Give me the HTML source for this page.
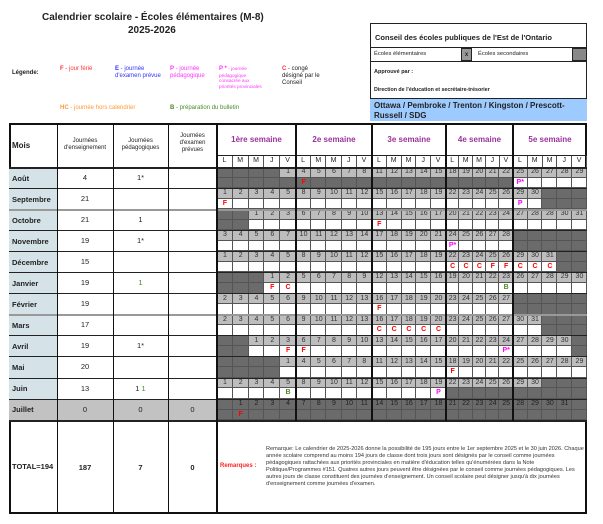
<!DOCTYPE html>
<html><head><meta charset="utf-8">
<style>
*{margin:0;padding:0;box-sizing:border-box}
body{width:603px;height:524px;background:#fff;position:relative;overflow:hidden;font-family:"Liberation Sans",sans-serif;color:#222}
.a{position:absolute;white-space:nowrap}
.b{font-weight:bold}
#g{position:absolute;left:217px;top:167px;width:370px;height:253.2px;display:grid;
grid-template-columns:repeat(5,15.8px) repeat(5,15.2px) repeat(5,14.8px) repeat(5,13.4px) repeat(5,14.8px);
grid-template-rows:repeat(24,10.55px)}
#g i,#g s,#g u{font-style:normal;text-decoration:none;font-size:7px;line-height:10.5px;text-align:center;box-shadow:inset -1px -1px 0 #555;color:#333}
#g i{background:#bdbdbd}
#g s{background:#6b6b6b;color:#222}
#g u{background:#fff}
#g .r{color:#f00;font-weight:bold}
#g .m{color:#f0f;font-weight:bold}
#g .g{color:#4a8a2a;font-weight:bold}
.hl{position:absolute;left:9px;width:578px;height:1px;background:#222}
.vl{position:absolute;top:123px;height:298px;width:2px;background:#111}
.cell{position:absolute;display:flex;align-items:center;justify-content:center;text-align:center;font-size:7.5px}
.wk{position:absolute;top:123px;height:32px;display:flex;align-items:center;justify-content:center;color:#993399;font-weight:bold;font-size:8px}
.dl{position:absolute;top:155px;height:12px;display:flex}
.dl span{flex:1;font-size:7px;text-align:center;line-height:12px;border-right:1px solid #555}
</style></head><body>
<div class="a b" style="left:42px;top:12px;font-size:10px">Calendrier scolaire - Écoles élémentaires (M-8)</div>
<div class="a b" style="left:128px;top:25px;font-size:10px">2025-2026</div>
<div class="a b" style="left:12px;top:70px;font-size:6px">Légende:</div>
<div class="a" style="left:60px;top:66px;font-size:6px;color:#f33"><b>F</b> - jour férié</div>
<div class="a" style="left:115px;top:66px;font-size:6px;color:#33f;line-height:7px"><b>E</b> - journée<br>d'examen prévue</div>
<div class="a" style="left:170px;top:66px;font-size:6px;color:#f3f;line-height:7px"><b>P</b> - journée<br>pédagogique</div>
<div class="a" style="left:219px;top:66px;font-size:4.7px;color:#f3f;line-height:5.6px"><b style="font-size:6px">P *</b> - journée<br>pédagogique<br>consacrée aux<br>priorités provinciales</div>
<div class="a" style="left:282px;top:66px;font-size:6px;line-height:7px"><b style="color:#f33">C</b> - congé<br>désigné par le<br>Conseil</div>
<div class="a" style="left:60px;top:105px;font-size:6px;color:#f93"><b>HC</b> - journée hors calendrier</div>
<div class="a" style="left:170px;top:105px;font-size:6px;color:#4a8a2a"><b>B</b> - préparation du bulletin</div>

<div class="a" style="left:370px;top:23px;width:217px;height:98px;border:1px solid #222"></div>
<div class="a b" style="left:375px;top:33px;font-size:7.5px">Conseil des écoles publiques de l'Est de l'Ontario</div>
<div class="a" style="left:370px;top:47px;width:217px;height:15px;border-top:1px solid #222;border-bottom:1px solid #222"></div>
<div class="a" style="left:374px;top:51px;font-size:5.8px">Écoles élémentaires</div>
<div class="a b" style="left:461px;top:48px;width:11px;height:13px;background:#999;border:1px solid #222;font-size:6px;text-align:center;line-height:12px">x</div>
<div class="a" style="left:478px;top:51px;font-size:5.8px">Écoles secondaires</div>
<div class="a" style="left:572px;top:48px;width:15px;height:13px;background:#888;border:1px solid #222"></div>
<div class="a b" style="left:374px;top:69px;font-size:5.5px">Approuvé par :</div>
<div class="a b" style="left:374px;top:87px;font-size:5.3px">Direction de l'éducation et secrétaire-trésorier</div>
<div class="a b" style="left:370px;top:98px;width:217px;height:23px;background:#9ecbff;font-size:8px;line-height:9.5px;padding:2px 4px;border-top:1px solid #222;white-space:normal">Ottawa / Pembroke / Trenton / Kingston / Prescott-Russell / SDG</div>

<div class="a" style="left:9px;top:123px;width:578px;height:391px;border:2px solid #111"></div>
<div class="a" style="left:9px;top:167px;width:48px;height:233px;background:#d5e3e8"></div>
<div class="a" style="left:9px;top:399px;width:208px;height:21px;background:#c2c2c2"></div>
<div class="cell b" style="left:12px;top:123px;height:44px;font-size:8px">Mois</div>
<div class="cell" style="left:57px;top:123px;width:56px;height:44px;font-size:6px;line-height:7px">Journées<br>d'enseignement</div>
<div class="cell" style="left:113px;top:123px;width:55px;height:44px;font-size:6px;line-height:7px">Journées<br>pédagogiques</div>
<div class="cell" style="left:168px;top:123px;width:49px;height:40px;font-size:6px;line-height:7px">Journées<br>d'examen<br>prévues</div>
<div class="wk" style="left:217px;width:79px">1ère semaine</div>
<div class="wk" style="left:296px;width:76px">2e semaine</div>
<div class="wk" style="left:372px;width:74px">3e semaine</div>
<div class="wk" style="left:446px;width:67px">4e semaine</div>
<div class="wk" style="left:513px;width:74px">5e semaine</div>
<div class="dl" style="left:217px;width:79px"><span>L</span><span>M</span><span>M</span><span>J</span><span>V</span></div>
<div class="dl" style="left:296px;width:76px"><span>L</span><span>M</span><span>M</span><span>J</span><span>V</span></div>
<div class="dl" style="left:372px;width:74px"><span>L</span><span>M</span><span>M</span><span>J</span><span>V</span></div>
<div class="dl" style="left:446px;width:67px"><span>L</span><span>M</span><span>M</span><span>J</span><span>V</span></div>
<div class="dl" style="left:513px;width:74px"><span>L</span><span>M</span><span>M</span><span>J</span><span>V</span></div>
<div class="a" style="left:217px;top:155px;width:370px;height:1px;background:#222"></div>

<div id="g">
<s></s><s></s><s></s><s></s><i>1</i><i>4</i><i>5</i><i>6</i><i>7</i><i>8</i><i>11</i><i>12</i><i>13</i><i>14</i><i>15</i><i>18</i><i>19</i><i>20</i><i>21</i><i>22</i><i>25</i><i>26</i><i>27</i><i>28</i><i>29</i>
<s></s><s></s><s></s><s></s><s></s><s class="r">F</s><s></s><s></s><s></s><s></s><s></s><s></s><s></s><s></s><s></s><s></s><s></s><s></s><s></s><s></s><u class="m">P*</u><u></u><u></u><u></u><u></u>
<i>1</i><i>2</i><i>3</i><i>4</i><i>5</i><i>8</i><i>9</i><i>10</i><i>11</i><i>12</i><i>15</i><i>16</i><i>17</i><i>18</i><i>19</i><i>22</i><i>23</i><i>24</i><i>25</i><i>26</i><i>29</i><i>30</i><s></s><s></s><s></s>
<u class="r">F</u><u></u><u></u><u></u><u></u><u></u><u></u><u></u><u></u><u></u><u></u><u></u><u></u><u></u><u></u><u></u><u></u><u></u><u></u><u></u><u class="m">P</u><u></u><s></s><s></s><s></s>
<s></s><s></s><i>1</i><i>2</i><i>3</i><i>6</i><i>7</i><i>8</i><i>9</i><i>10</i><i>13</i><i>14</i><i>15</i><i>16</i><i>17</i><i>20</i><i>21</i><i>22</i><i>23</i><i>24</i><i>27</i><i>28</i><i>28</i><i>30</i><i>31</i>
<s></s><s></s><u></u><u></u><u></u><u></u><u></u><u></u><u></u><u></u><u class="r">F</u><u></u><u></u><u></u><u></u><u></u><u></u><u></u><u></u><u></u><u></u><u></u><u></u><u></u><u></u>
<i>3</i><i>4</i><i>5</i><i>6</i><i>7</i><i>10</i><i>11</i><i>12</i><i>13</i><i>14</i><i>17</i><i>18</i><i>19</i><i>20</i><i>21</i><i>24</i><i>25</i><i>26</i><i>27</i><i>28</i><s></s><s></s><s></s><s></s><s></s>
<u></u><u></u><u></u><u></u><u></u><u></u><u></u><u></u><u></u><u></u><u></u><u></u><u></u><u></u><u></u><u class="m">P*</u><u></u><u></u><u></u><u></u><s></s><s></s><s></s><s></s><s></s>
<i>1</i><i>2</i><i>3</i><i>4</i><i>5</i><i>8</i><i>9</i><i>10</i><i>11</i><i>12</i><i>15</i><i>16</i><i>17</i><i>18</i><i>19</i><i>22</i><i>23</i><i>24</i><i>25</i><i>26</i><i>29</i><i>30</i><i>31</i><s></s><s></s>
<u></u><u></u><u></u><u></u><u></u><u></u><u></u><u></u><u></u><u></u><u></u><u></u><u></u><u></u><u></u><u class="r">C</u><u class="r">C</u><u class="r">C</u><u class="r">F</u><u class="r">F</u><u class="r">C</u><u class="r">C</u><u class="r">C</u><s></s><s></s>
<s></s><s></s><s></s><i>1</i><i>2</i><i>5</i><i>6</i><i>7</i><i>8</i><i>9</i><i>12</i><i>13</i><i>14</i><i>15</i><i>16</i><i>19</i><i>20</i><i>21</i><i>22</i><i>23</i><i>26</i><i>27</i><i>28</i><i>29</i><i>30</i>
<s></s><s></s><s></s><u class="r">F</u><u class="r">C</u><u></u><u></u><u></u><u></u><u></u><u></u><u></u><u></u><u></u><u></u><u></u><u></u><u></u><u></u><u class="g">B</u><u></u><u></u><u></u><u></u><u></u>
<i>2</i><i>3</i><i>4</i><i>5</i><i>6</i><i>9</i><i>10</i><i>11</i><i>12</i><i>13</i><i>16</i><i>17</i><i>18</i><i>19</i><i>20</i><i>23</i><i>24</i><i>25</i><i>26</i><i>27</i><s></s><s></s><s></s><s></s><s></s>
<u></u><u></u><u></u><u></u><u></u><u></u><u></u><u></u><u></u><u></u><u class="r">F</u><u></u><u></u><u></u><u></u><u></u><u></u><u></u><u></u><u></u><s></s><s></s><s></s><s></s><s></s>
<i>2</i><i>3</i><i>4</i><i>5</i><i>6</i><i>9</i><i>10</i><i>11</i><i>12</i><i>13</i><i>16</i><i>17</i><i>18</i><i>19</i><i>20</i><i>23</i><i>24</i><i>25</i><i>26</i><i>27</i><i>30</i><i>31</i><s></s><s></s><s></s>
<u></u><u></u><u></u><u></u><u></u><u></u><u></u><u></u><u></u><u></u><u class="r">C</u><u class="r">C</u><u class="r">C</u><u class="r">C</u><u class="r">C</u><u></u><u></u><u></u><u></u><u></u><u></u><u></u><s></s><s></s><s></s>
<s></s><s></s><i>1</i><i>2</i><i>3</i><i>6</i><i>7</i><i>8</i><i>9</i><i>10</i><i>13</i><i>14</i><i>15</i><i>16</i><i>17</i><i>20</i><i>21</i><i>22</i><i>23</i><i>24</i><i>27</i><i>28</i><i>29</i><i>30</i><s></s>
<s></s><s></s><u></u><u></u><u class="r">F</u><u class="r">F</u><u></u><u></u><u></u><u></u><u></u><u></u><u></u><u></u><u></u><u></u><u></u><u></u><u></u><u class="m">P*</u><u></u><u></u><u></u><u></u><s></s>
<s></s><s></s><s></s><s></s><i>1</i><i>4</i><i>5</i><i>6</i><i>7</i><i>8</i><i>11</i><i>12</i><i>13</i><i>14</i><i>15</i><i>18</i><i>19</i><i>20</i><i>21</i><i>22</i><i>25</i><i>26</i><i>27</i><i>28</i><i>29</i>
<s></s><s></s><s></s><s></s><u></u><u></u><u></u><u></u><u></u><u></u><u></u><u></u><u></u><u></u><u></u><u class="r">F</u><u></u><u></u><u></u><u></u><u></u><u></u><u></u><u></u><u></u>
<i>1</i><i>2</i><i>3</i><i>4</i><i>5</i><i>8</i><i>9</i><i>10</i><i>11</i><i>12</i><i>15</i><i>16</i><i>17</i><i>18</i><i>19</i><i>22</i><i>23</i><i>24</i><i>25</i><i>26</i><i>29</i><i>30</i><s></s><s></s><s></s>
<u></u><u></u><u></u><u></u><u class="g">B</u><u></u><u></u><u></u><u></u><u></u><u></u><u></u><u></u><u></u><u class="m">P</u><s></s><s></s><s></s><s></s><s></s><s></s><s></s><s></s><s></s><s></s>
<s></s><s>1</s><s>2</s><s>3</s><s>4</s><s>7</s><s>8</s><s>9</s><s>10</s><s>11</s><s>14</s><s>15</s><s>16</s><s>17</s><s>18</s><s>21</s><s>22</s><s>23</s><s>24</s><s>25</s><s>28</s><s>29</s><s>30</s><s>31</s><s></s>
<s></s><s class="r">F</s><s></s><s></s><s></s><s></s><s></s><s></s><s></s><s></s><s></s><s></s><s></s><s></s><s></s><s></s><s></s><s></s><s></s><s></s><s></s><s></s><s></s><s></s><s></s>
</div>

<div class="hl" style="top:167px;height:1.5px"></div>
<div class="hl" style="top:188px"></div>
<div class="hl" style="top:209px;background:#999;height:2px"></div>
<div class="hl" style="top:230px"></div>
<div class="hl" style="top:251px"></div>
<div class="hl" style="top:272px"></div>
<div class="hl" style="top:293px"></div>
<div class="hl" style="top:314px;background:#999;height:2px"></div>
<div class="hl" style="top:335px"></div>
<div class="hl" style="top:356px"></div>
<div class="hl" style="top:378px"></div>
<div class="hl" style="top:399px"></div>
<div class="hl" style="top:420px;height:1.5px"></div>
<div class="a" style="left:57px;top:123px;width:1px;height:391px;background:#111"></div>
<div class="a" style="left:113px;top:123px;width:1px;height:391px;background:#111"></div>
<div class="a" style="left:168px;top:123px;width:1px;height:391px;background:#111"></div>
<div class="a" style="left:216px;top:123px;width:2px;height:391px;background:#111"></div>
<div class="vl" style="left:295px"></div>
<div class="vl" style="left:371px"></div>
<div class="vl" style="left:445px"></div>
<div class="vl" style="left:512px"></div>

<div class="a b" style="left:12px;top:174px;font-size:7.5px">Août</div>
<div class="a b" style="left:12px;top:195px;font-size:7.5px">Septembre</div>
<div class="a b" style="left:12px;top:216px;font-size:7.5px">Octobre</div>
<div class="a b" style="left:12px;top:237px;font-size:7.5px">Novembre</div>
<div class="a b" style="left:12px;top:258px;font-size:7.5px">Décembre</div>
<div class="a b" style="left:12px;top:279px;font-size:7.5px">Janvier</div>
<div class="a b" style="left:12px;top:300px;font-size:7.5px">Février</div>
<div class="a b" style="left:12px;top:321px;font-size:7.5px">Mars</div>
<div class="a b" style="left:12px;top:342px;font-size:7.5px">Avril</div>
<div class="a b" style="left:12px;top:363px;font-size:7.5px">Mai</div>
<div class="a b" style="left:12px;top:384px;font-size:7.5px">Juin</div>
<div class="a b" style="left:12px;top:405px;font-size:7.5px">Juillet</div>

<div class="cell" style="left:57px;top:167px;width:56px;height:21px">4</div>
<div class="cell" style="left:57px;top:188px;width:56px;height:21px">21</div>
<div class="cell" style="left:57px;top:209px;width:56px;height:21px">21</div>
<div class="cell" style="left:57px;top:230px;width:56px;height:21px">19</div>
<div class="cell" style="left:57px;top:251px;width:56px;height:21px">15</div>
<div class="cell" style="left:57px;top:272px;width:56px;height:21px">19</div>
<div class="cell" style="left:57px;top:293px;width:56px;height:21px">19</div>
<div class="cell" style="left:57px;top:314px;width:56px;height:21px">17</div>
<div class="cell" style="left:57px;top:335px;width:56px;height:21px">19</div>
<div class="cell" style="left:57px;top:356px;width:56px;height:21px">20</div>
<div class="cell" style="left:57px;top:378px;width:56px;height:21px">13</div>
<div class="cell" style="left:57px;top:399px;width:56px;height:21px">0</div>

<div class="cell" style="left:113px;top:167px;width:55px;height:21px">1*</div>
<div class="cell" style="left:113px;top:209px;width:55px;height:21px">1</div>
<div class="cell" style="left:113px;top:230px;width:55px;height:21px">1*</div>
<div class="cell" style="left:113px;top:272px;width:55px;height:21px;color:#4a8a2a">1</div>
<div class="cell" style="left:113px;top:335px;width:55px;height:21px">1*</div>
<div class="cell" style="left:113px;top:378px;width:55px;height:21px">1&nbsp;<span style="color:#4a8a2a">1</span></div>
<div class="cell" style="left:113px;top:399px;width:55px;height:21px">0</div>
<div class="cell" style="left:168px;top:399px;width:49px;height:21px">0</div>

<div class="a b" style="left:12px;top:462px;font-size:7.5px">TOTAL=194</div>
<div class="cell b" style="left:57px;top:421px;width:56px;height:92px">187</div>
<div class="cell b" style="left:113px;top:421px;width:55px;height:92px">7</div>
<div class="cell b" style="left:168px;top:421px;width:49px;height:92px">0</div>
<div class="a b" style="left:220px;top:463px;font-size:6px;color:#f22">Remarques :</div>
<div class="a" style="left:266px;top:446px;width:318px;font-size:5.6px;line-height:7px;white-space:normal;color:#333">Remarque: Le calendrier de 2025-2026 donne la possibilité de 195 jours entre le 1er septembre 2025 et le 30 juin 2026. Chaque année scolaire comprend au moins 194 jours de classe dont trois jours sont désignés par le conseil comme journées pédagogiques rattachées aux priorités provinciales en matière d'éducation telles qu'énumérées dans la Note Politique/Programmes #151. Quatres autres jours peuvent être désignées par le conseil comme journées pédagogiques. Les autres jours de classe constituent des journées d'enseignement. Un conseil scolaire peut désigner jusqu'à dix journées d'enseignement comme journées d'examen.</div>
</body></html>
